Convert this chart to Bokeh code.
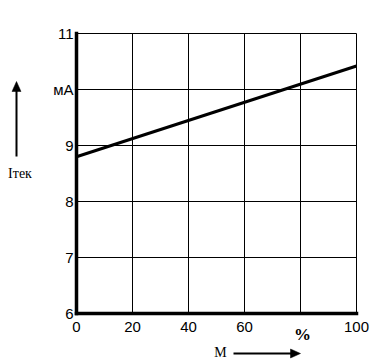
from bokeh.plotting import figure
from bokeh.models import Range1d, FixedTicker
from bokeh.core.properties import value
from bokeh.embed import file_html
from bokeh.resources import INLINE

# data
m_percent = [0, 100]
i_tek = [8.8, 10.42]
x_ticks = [0, 20, 40, 60, 80, 100]
y_ticks = [6, 7, 8, 9, 10, 11]
x_overrides = {80: ""}
y_overrides = {10: "мА"}

W, H = 383, 361
# frame box of the chart in pixels (left, right, top, bottom)
L, R, T, B = 76, 356, 33, 313
X0, X1 = x_ticks[0], x_ticks[-1]
Y0, Y1 = y_ticks[0], y_ticks[-1]


def dx(px):
    return X0 + (px - L) * (X1 - X0) / (R - L)


def dy(py):
    return Y1 - (py - T) * (Y1 - Y0) / (B - T)


p = figure(width=W, height=H, output_backend="svg", toolbar_location=None,
           x_range=Range1d(dx(0), dx(W)), y_range=Range1d(dy(H), dy(0)),
           min_border=0)
p.title.visible = False
p.outline_line_color = None
p.grid.visible = False

# grid lines and top/right border
n = len(x_ticks) - 1
p.segment(x0=x_ticks[1:], y0=[Y0] * n, x1=x_ticks[1:], y1=[Y1] * n,
          line_color="black", line_width=1)
k = len(y_ticks) - 1
p.segment(x0=[X0] * k, y0=y_ticks[1:], x1=[X1] * k, y1=y_ticks[1:],
          line_color="black", line_width=1)

p.line(m_percent, i_tek, line_color="black", line_width=3)

p.xaxis.fixed_location = Y0
p.yaxis.fixed_location = X0
p.xaxis.bounds = (X0, X1)
p.yaxis.bounds = (Y0, Y1)
for ax, ticks, ov in ((p.xaxis[0], x_ticks, x_overrides), (p.yaxis[0], y_ticks, y_overrides)):
    ax.ticker = FixedTicker(ticks=ticks)
    ax.major_label_overrides = ov
    ax.axis_line_width = 3.5
    ax.axis_line_color = "black"
    ax.axis_line_cap = "square"
    ax.major_tick_line_color = None
    ax.minor_tick_line_color = None
    ax.major_tick_out = 0
    ax.major_tick_in = 0
    ax.minor_tick_out = 0
    ax.major_label_text_font = "Liberation Sans"
    ax.major_label_text_font_size = "15px"
    ax.major_label_text_color = "black"
p.xaxis.major_label_standoff = 8
p.yaxis.major_label_standoff = 3

serif = value("Liberation Serif")
p.text(x=[dx(302)], y=[dy(334)], text=["%"], text_font=serif, text_font_style="bold",
       text_font_size="17px", text_align="center", text_baseline="middle", text_color="black")
p.text(x=[dx(220), dx(19.5)], y=[dy(352), dy(173)], text=["M", "Iтек"], text_font=serif,
       text_font_size="14px", text_align="center", text_baseline="middle", text_color="black")

# arrows
p.segment(x0=[dx(16), dx(233)], y0=[dy(156), dy(353)], x1=[dx(16), dx(291)], y1=[dy(90), dy(353)],
          line_color="black", line_width=2)
p.patches(xs=[[dx(16), dx(20.5), dx(11.5)], [dx(300), dx(290), dx(290)]],
          ys=[[dy(81), dy(91), dy(91)], [dy(353), dy(348.5), dy(357.5)]],
          fill_color="black", line_color="black", line_width=0.5)

open("out.html", "w").write(file_html(p, INLINE))
